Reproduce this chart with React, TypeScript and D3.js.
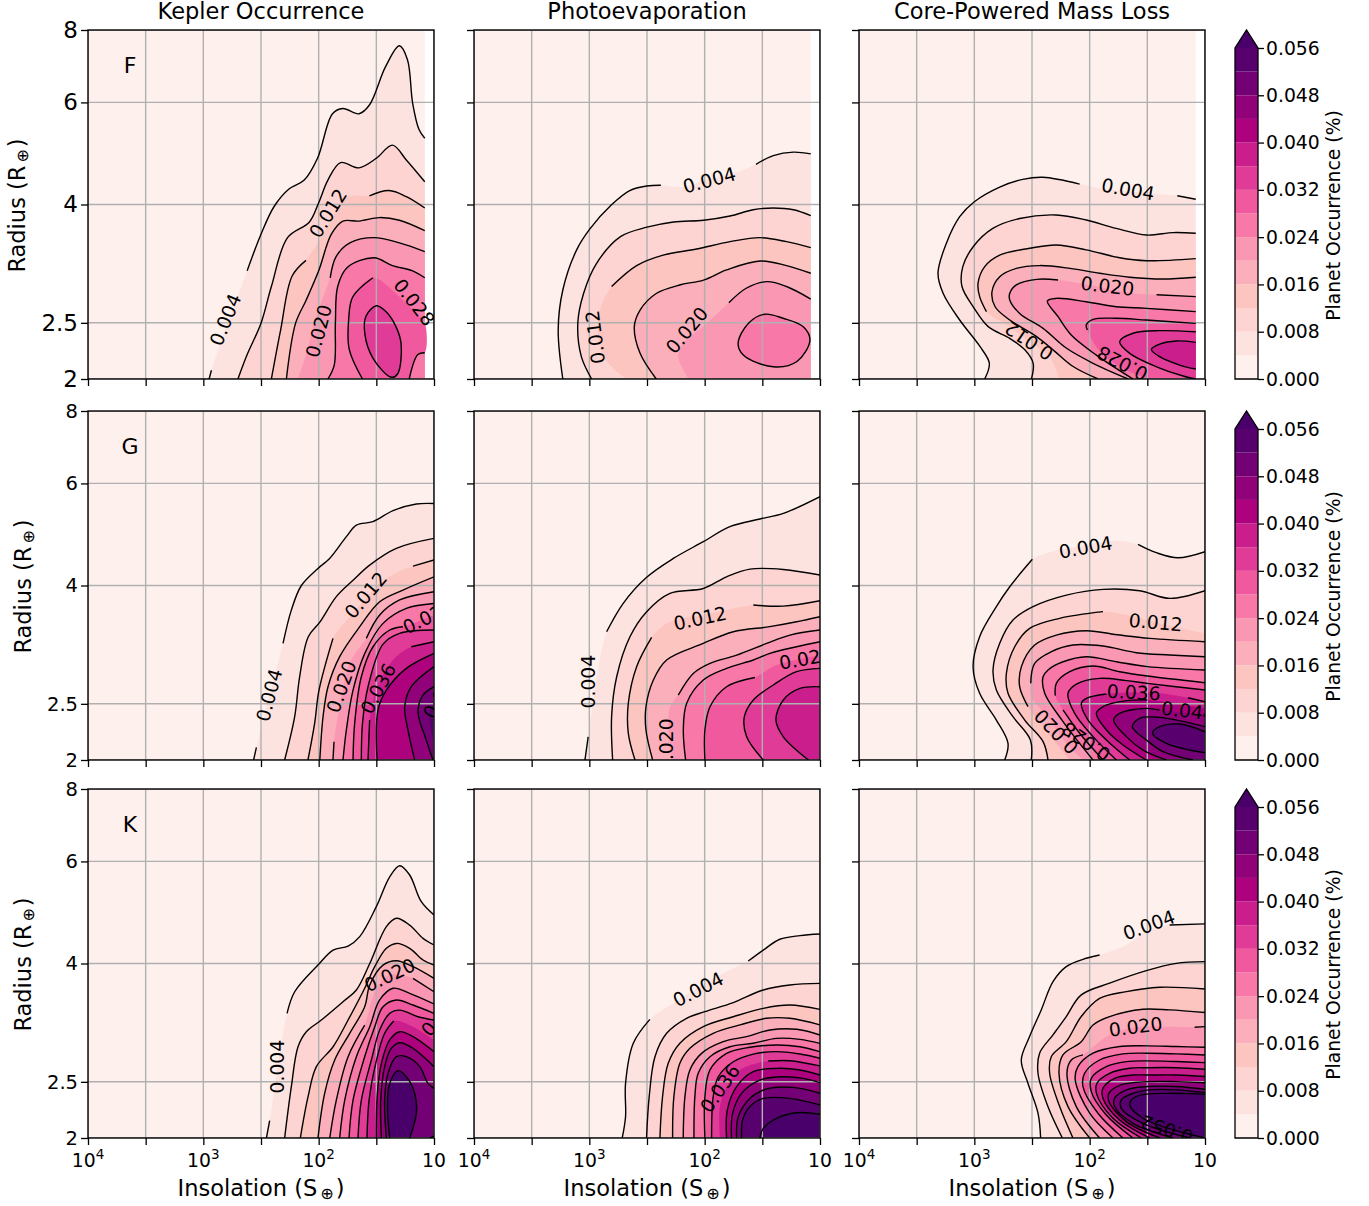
import React, { useEffect, useRef } from 'react';
import * as d3 from 'd3';

// contour points are [log10 insolation, log2 radius]
// _ lifts the pen (inline label gaps), a lone point between two _ only shapes the fill
type Pt = [number, number] | null;
type Contour = [number, Pt[]];
type Label = [string, number, number, number];
const _ = null;

const levels = d3.range(0, 15).map((i) => i * 0.004);
const cbarTicks = [0, 0.008, 0.016, 0.024, 0.032, 0.04, 0.048, 0.056];
const xTicks = [4, 3.5, 3, 2.5, 2, 1.5, 1];
const yTicks = [2, 2.5, 4, 6, 8];
const titles = ['Kepler Occurrence', 'Photoevaporation', 'Core-Powered Mass Loss'];
const spectralTypes = ['F', 'G', 'K'];

const fKepler: Contour[] = [
  [0.004, [[2.95,1],[2.93,1.05],_,[2.62,1.62],[2.5,1.83],[2.385,1.99],[2.255,2.09],[2.125,2.14],[2.01,2.265],[1.88,2.52],[1.79,2.55],[1.65,2.52],[1.56,2.57],[1.42,2.79],[1.3,2.91],[1.23,2.83],[1.185,2.58],[1.13,2.43],[1.08,2.38]]],
  [0.008, [[2.7,1],[2.62,1.14],[2.5,1.32],[2.41,1.53],[2.27,1.81],[2.08,1.9],[2,2.01],[1.92,2.14],[1.81,2.24],[1.65,2.21],[1.5,2.265],[1.36,2.34],[1.24,2.255],[1.08,2.13]]],
  [0.012, [[2.41,1],[2.33,1.28],[2.23,1.59],[2.11,1.68],_,[1.94,1.85],_,[1.76,2.04],_,[1.56,2.05],[1.39,2.08],[1.24,2.045],[1.08,1.98]]],
  [0.016, [[2.28,1],[2.2,1.32],[2.11,1.45],[2,1.62],[1.89,1.83],[1.79,1.905],[1.65,1.905],[1.475,1.925],[1.3,1.91],[1.08,1.85]]],
  [0.02, [[2.18,1],_,[2.11,1.14],_,[2.02,1.36],_,[1.9,1.58],[1.85,1.7],[1.73,1.78],[1.52,1.81],[1.3,1.78],[1.08,1.73]]],
  [0.024, [[1.92,1],[1.865,1.08],[1.855,1.32],[1.835,1.53],[1.75,1.64],[1.52,1.695],[1.36,1.65],[1.185,1.62],[1.08,1.58]]],
  [0.028, [[1.62,1],[1.735,1.17],[1.74,1.34],[1.705,1.47],[1.53,1.58],_,[1.33,1.49],_,[1.16,1.38],_,[1.08,1.32],_,[1.08,1.15],[1.14,1.14],[1.215,1]]],
  [0.032, [[1.5,1.42],[1.59,1.36],[1.6,1.26],[1.53,1.12],[1.37,1.01],[1.315,1.03],[1.285,1.2],[1.33,1.3],[1.415,1.385],[1.5,1.42]]],
];
const fKeplerLabels: Label[] = [['0.004',2.81,1.34,-68],['0.012',1.92,1.95,-58],['0.020',2,1.275,-75],['0.028',1.17,1.44,52]];

const fPhoto: Contour[] = [
  [0.004, [[3.23,1],[3.27,1.28],[3.23,1.51],[3.11,1.74],[2.995,1.86],[2.81,1.997],[2.65,2.08],[2.5,2.106],[2.38,2.11],_,[2.185,2.1],_,[1.98,2.14],_,[1.695,2.19],_,[1.555,2.23],[1.405,2.28],[1.23,2.3],[1.08,2.29]]],
  [0.008, [[2.98,1],[3.07,1.13],[3.1,1.32],[3.05,1.49],[2.94,1.66],[2.73,1.816],[2.5,1.87],[2.27,1.9],[2.01,1.91],[1.78,1.934],[1.58,1.97],[1.405,1.98],[1.23,1.97],[1.08,1.936]]],
  [0.012, [[2.68,1],_,[2.88,1.13],_,[2.92,1.36],_,[2.807,1.53],[2.59,1.65],[2.36,1.71],[2.07,1.745],[1.78,1.787],[1.52,1.81],[1.29,1.787],[1.08,1.753]]],
  [0.016, [[2.42,1],[2.56,1.147],[2.61,1.3],[2.56,1.395],[2.42,1.49],[2.21,1.54],[2.01,1.567],[1.81,1.625],[1.52,1.676],[1.29,1.65],[1.08,1.606]]],
  [0.02, [[2.14,1],_,[2.23,1.13],_,[2.185,1.205],_,[1.98,1.32],_,[1.79,1.437],[1.64,1.52],[1.46,1.558],[1.29,1.53],[1.08,1.458]]],
  [0.024, [[1.48,1.371],[1.62,1.32],[1.71,1.205],[1.665,1.138],[1.405,1.07],[1.2,1.1],[1.087,1.224],[1.145,1.3],[1.32,1.348],[1.48,1.371]]],
];
const fPhotoLabels: Label[] = [['0.004',1.96,2.14,-15],['0.012',2.95,1.24,-97],['0.020',2.155,1.28,-50]];

const fCore: Contour[] = [
  [0.004, [[2.91,1],[2.87,1.09],[2.95,1.185],[3.127,1.338],[3.27,1.49],[3.315,1.606],[3.243,1.777],[3.127,1.93],[3,2.016],[2.78,2.1],[2.58,2.144],[2.405,2.156],[2.087,2.117],_,[1.885,2.09],_,[1.48,2.064],_,[1.24,2.05],[1.08,2.03]]],
  [0.008, [[2.505,1],[2.49,1.09],[2.56,1.166],[2.693,1.233],[2.88,1.3],[3.01,1.414],[3.107,1.53],[3.1,1.644],[3.01,1.758],[2.84,1.863],[2.607,1.92],[2.29,1.94],[2.03,1.911],[1.77,1.863],[1.508,1.825],[1.277,1.839],[1.08,1.835]]],
  [0.012, [[2.26,1],_,[2.347,1.128],_,[2.46,1.185],_,[2.72,1.31],_,[2.895,1.386],[2.954,1.472],[2.968,1.548],[2.91,1.644],[2.78,1.71],[2.52,1.749],[2.29,1.768],[2.03,1.74],[1.74,1.695],[1.508,1.678],[1.08,1.69]]],
  [0.016, [[1.927,1],[2.14,1.07],[2.3,1.157],[2.46,1.243],[2.693,1.338],[2.82,1.414],[2.847,1.5],[2.78,1.586],[2.636,1.634],[2.433,1.65],[2.17,1.634],[1.913,1.606],[1.653,1.583],[1.364,1.573],[1.08,1.583]]],
  [0.02, [[1.667,1],[1.97,1.09],[2.2,1.176],[2.404,1.29],[2.607,1.376],[2.693,1.453],[2.693,1.491],[2.636,1.539],[2.46,1.571],[2.274,1.567],_,[2.087,1.548],_,[1.624,1.491],_,[1.42,1.483],[1.08,1.472]]],
  [0.024, [[1.624,1],[1.942,1.137],[2.16,1.252],[2.274,1.357],[2.367,1.447],[2.29,1.462],[2.03,1.443],[1.77,1.414],[1.508,1.405],[1.08,1.386]]],
  [0.028, [[1.48,1],_,[1.71,1.06],_,[1.92,1.166],_,[2.02,1.281],[2.03,1.31],[1.97,1.342],[1.77,1.348],[1.508,1.338],[1.08,1.319]]],
  [0.032, [[1.08,1.271],[1.393,1.277],[1.624,1.262],[1.74,1.214],[1.653,1.147],[1.42,1.07],[1.19,1.017],[1.08,1]]],
  [0.036, [[1.08,1.21],[1.248,1.218],[1.393,1.2],[1.465,1.17],[1.393,1.128],[1.22,1.08],[1.08,1.057]]],
];
const fCoreLabels: Label[] = [['0.004',1.667,2.087,10],['0.020',1.846,1.533,7],['0.012',2.526,1.218,214],['0.028',1.716,1.09,207]];

const gKepler: Contour[] = [
  [0.004, [[2.564,1],[2.54,1.072],_,[2.309,1.668],[2.237,1.859],[2.15,2],[2.006,2.098],[1.905,2.155],[1.76,2.28],[1.673,2.346],[1.53,2.366],[1.355,2.429],[1.153,2.467],[1,2.47]]],
  [0.008, [[2.295,1],[2.208,1.248],[2.165,1.477],[2.09,1.706],[1.99,1.79],[1.847,1.936],[1.702,2.03],[1.558,2.117],[1.327,2.213],[1,2.27]]],
  [0.012, [[2.093,1],[2.035,1.21],[1.997,1.4],[1.876,1.697],_,[1.73,1.82],_,[1.413,2.04],_,[1.182,2.111],[1,2.146]]],
  [0.016, [[1.99,1],[1.962,1.248],[1.919,1.42],[1.818,1.592],[1.644,1.764],[1.471,1.907],[1.269,1.974],[1,2.05]]],
  [0.02, [[1.876,1],[1.867,1.105],_,[1.818,1.305],_,[1.73,1.554],_,[1.587,1.697],[1.471,1.831],[1.298,1.917],[1,1.964]]],
  [0.024, [[1.789,1],[1.76,1.172],[1.702,1.4],[1.6,1.611],[1.442,1.783],[1.24,1.869],[1,1.897]]],
  [0.028, [[1.702,1],[1.688,1.21],[1.63,1.477],[1.529,1.649],[1.384,1.745],[1.269,1.764],_,[1,1.83]]],
  [0.032, [[1.63,1],[1.62,1.21],[1.572,1.42],[1.442,1.664],[1.298,1.726],[1,1.745]]],
  [0.036, [[1.572,1],[1.558,1.229],_,[1.5,1.4],_,[1.37,1.563],_,[1.197,1.649],[1,1.678]]],
  [0.04, [[1.494,1],[1.486,1.286],[1.413,1.4],[1.24,1.525],[1,1.611]]],
  [0.044, [[1.168,1],[1.226,1.172],[1.254,1.305],[1.197,1.42],[1,1.535]]],
  [0.048, [[1.009,1],[1.067,1.114],[1.139,1.277],[1.095,1.372],[1,1.42]]],
  [0.052, [[1,1.324],_,[1.037,1.286],_,[1.037,1.21],_,[1,1.095]]],
];
const gKeplerLabels: Label[] = [['0.004',2.43,1.372,-75],['0.012',1.593,1.945,-50],['0.020',1.803,1.42,-70],['0.036',1.485,1.41,-62],['0.028',1.05,1.82,-25],['0.048',0.936,1.38,-60]];

const gPhoto: Contour[] = [
  [0.004, [[3.038,1],[3.01,1.133],_,[2.85,1.735],[2.706,1.898],[2.503,2.047],[2.272,2.155],[2.012,2.251],[1.781,2.337],[1.521,2.381],[1.318,2.413],[1,2.509]]],
  [0.008, [[2.798,1],[2.807,1.248],[2.763,1.477],[2.648,1.706],[2.503,1.85],[2.301,1.955],[2.012,1.983],[1.81,2.05],[1.607,2.094],[1.318,2.092],[1,2.06]]],
  [0.012, [[2.604,1],[2.662,1.153],[2.662,1.325],[2.59,1.535],[2.46,1.703],_,[2.301,1.792],_,[2.012,1.83],_,[1.578,1.888],[1.318,1.882],[1,1.913]]],
  [0.016, [[2.451,1],[2.509,1.172],[2.509,1.305],[2.445,1.458],[2.33,1.573],[2.012,1.668],[1.752,1.735],[1.436,1.764],[1.203,1.792],[1,1.821]]],
  [0.02, [[2.286,1],_,[2.315,1.21],_,[2.3,1.305],_,[2.229,1.372],[2.099,1.496],[1.954,1.554],[1.723,1.601],[1.463,1.668],[1.26,1.716],[1,1.745]]],
  [0.024, [[2.165,1],[2.185,1.172],[2.156,1.325],[2.012,1.458],[1.81,1.525],[1.578,1.573],[1.434,1.611],[1.203,1.649],[1,1.678]]],
  [0.028, [[1.998,1],[1.998,1.172],[1.954,1.305],[1.81,1.42],[1.564,1.473],_,[1.376,1.544],_,[1,1.6]]],
  [0.032, [[1.492,1],[1.636,1.133],[1.656,1.248],[1.578,1.344],[1.405,1.43],[1.203,1.506],[1,1.525]]],
  [0.036, [[1.1,1],[1.318,1.133],[1.382,1.229],[1.318,1.344],[1.174,1.41],[1,1.42]]],
];
const gPhotoLabels: Label[] = [['0.004',3.01,1.449,-90],['0.012',2.04,1.812,-12],['0.020',2.335,1.085,-90],['0.028',1.122,1.582,-10]];

const gCore: Contour[] = [
  [0.004, [[2.737,1],[2.708,1.095],[2.809,1.229],[2.954,1.382],[3.011,1.535],[2.954,1.707],[2.809,1.879],[2.693,1.993],[2.497,2.15],_,[2.029,2.232],_,[1.769,2.257],_,[1.581,2.236],[1.422,2.188],[1.234,2.159],[1,2.194]]],
  [0.008, [[2.506,1],[2.514,1.115],[2.665,1.248],[2.809,1.401],[2.838,1.516],[2.78,1.669],[2.665,1.802],[2.491,1.879],[2.202,1.945],[1.884,1.978],[1.566,1.97],[1.306,1.926],[1,1.97]]],
  [0.012, [[2.361,1],[2.404,1.105],[2.563,1.229],[2.708,1.382],[2.722,1.497],[2.65,1.649],[2.52,1.754],[2.26,1.812],[1.884,1.85],_,[1.682,1.831],_,[1.335,1.774],_,[1,1.726]]],
  [0.016, [[2.173,1],_,[2.361,1.153],_,[2.535,1.306],[2.607,1.42],[2.592,1.535],[2.477,1.659],[2.289,1.716],[2.029,1.741],[1.74,1.716],[1.48,1.697],[1,1.678]]],
  [0.02, [[2.058,1],_,[2.202,1.095],_,[2.361,1.248],_,[2.506,1.363],_,[2.511,1.439],[2.477,1.554],[2.332,1.621],[2.144,1.659],[1.884,1.653],[1.595,1.615],[1.306,1.602],[1,1.592]]],
  [0.024, [[1.971,1],[2.087,1.095],[2.231,1.22],[2.39,1.382],[2.404,1.477],[2.361,1.516],[2.231,1.563],[2.029,1.592],[1.769,1.563],[1.5,1.535],[1,1.516]]],
  [0.028, [[1.884,1],[2.087,1.153],[2.231,1.287],_,[2.298,1.369],[2.289,1.439],[2.173,1.506],[1.971,1.539],[1.74,1.506],[1.5,1.481],[1,1.443]]],
  [0.032, [[1.769,1],[1.971,1.134],[2.13,1.267],[2.188,1.382],[2.115,1.435],[1.913,1.468],[1.682,1.455],[1.5,1.439],[1,1.401]]],
  [0.036, [[1.653,1],[1.855,1.115],[2.014,1.229],[2.072,1.325],[2.029,1.353],[1.855,1.378],_,[1.624,1.388],_,[1.393,1.382],_,[1.147,1.357],[1,1.334]]],
  [0.04, [[1.509,1],[1.711,1.086],[1.855,1.172],[1.942,1.267],[1.884,1.306],[1.682,1.34],[1.5,1.344],_,[1.277,1.325],_,[1,1.296]]],
  [0.044, [[1.335,1],[1.537,1.057],[1.682,1.134],[1.792,1.229],[1.74,1.267],[1.509,1.296],[1.393,1.286],_,[1,1.258]]],
  [0.048, [[1.104,1],[1.364,1.048],[1.509,1.115],[1.63,1.191],[1.566,1.239],[1.393,1.244],[1,1.191]]],
  [0.052, [[1,1.042],[1.133,1.057],[1.335,1.095],[1.456,1.153],[1.393,1.191],[1.22,1.206],[1,1.162]]],
];
const gCoreLabels: Label[] = [['0.004',2.035,2.219,-10],['0.012',1.427,1.789,5],['0.036',1.618,1.388,3],['0.044',1.147,1.281,7],['0.020',2.29,1.162,226],['0.028',2.03,1.105,215]];

const kKepler: Contour[] = [
  [0.004, [[2.453,1],[2.425,1.099],_,[2.274,1.714],[2.208,1.838],[2.006,1.991],[1.875,2.077],[1.745,2.1],[1.644,2.154],[1.5,2.326],[1.384,2.497],[1.297,2.56],[1.211,2.507],[1.11,2.354],[1,2.278]]],
  [0.008, [[2.295,1],[2.237,1.294],[2.179,1.523],[2.107,1.609],[1.977,1.676],[1.789,1.781],[1.673,1.848],[1.557,2],[1.413,2.211],[1.326,2.259],[1.211,2.22],[1.095,2.144],[1,2.106]]],
  [0.012, [[2.159,1],[2.092,1.237],[2.02,1.409],[1.875,1.523],[1.745,1.676],[1.601,1.858],[1.514,1.982],[1.413,2.087],[1.326,2.115],[1.211,2.087],[1.095,2.02],[1,1.991]]],
  [0.016, [[2.006,1],[1.948,1.256],[1.861,1.447],[1.731,1.6],[1.601,1.752],[1.557,1.877],[1.442,1.991],[1.326,2.016],[1.182,1.982],[1,1.915]]],
  [0.02, [[1.904,1],[1.847,1.217],[1.745,1.466],[1.601,1.647],_,[1.5,1.858],_,[1.384,1.934],_,[1.182,1.915],[1,1.838]]],
  [0.024, [[1.818,1],[1.774,1.217],[1.673,1.466],[1.557,1.638],[1.471,1.791],[1.355,1.858],[1.211,1.829],[1,1.768]]],
  [0.028, [[1.737,1],[1.702,1.217],[1.601,1.466],[1.514,1.638],[1.442,1.752],[1.326,1.791],[1.182,1.762],[1,1.714]]],
  [0.032, [[1.659,1],[1.63,1.217],[1.543,1.447],[1.471,1.619],[1.384,1.714],[1.297,1.733],[1.139,1.695],[1,1.676]]],
  [0.036, [[1.581,1],[1.563,1.217],[1.505,1.428],[1.428,1.6],[1.349,1.67],_,[1.182,1.638],_,[1,1.561]]],
  [0.04, [[1.5,1],[1.491,1.256],[1.456,1.428],[1.384,1.562],[1.297,1.609],[1.182,1.581],[1,1.495]]],
  [0.044, [[1.456,1],[1.462,1.217],[1.428,1.409],[1.37,1.514],[1.297,1.546],[1.182,1.514],[1,1.409]]],
  [0.048, [[1.413,1],[1.428,1.217],[1.399,1.37],[1.326,1.466],[1.24,1.466],[1.124,1.409],[1.052,1.313],[1,1.284],_,[1,1.011],[1.037,1]]],
  [0.056, [[1.384,1],[1.404,1.179],[1.384,1.313],[1.312,1.386],[1.24,1.351],[1.167,1.256],[1.153,1.141],[1.211,1]]],
];
const kKeplerLabels: Label[] = [['0.004',2.361,1.409,-90],['0.020',1.384,1.934,-25],['0.036',0.93,1.718,-50]];

const kPhoto: Contour[] = [
  [0.004, [[2.715,1],[2.686,1.122],[2.686,1.313],[2.619,1.543],[2.475,1.68],_,[2.272,1.772],_,[2.041,1.867],_,[1.839,1.944],_,[1.622,2.014],[1.492,2.077],[1.348,2.139],[1.174,2.16],[1,2.169]]],
  [0.008, [[2.504,1],[2.481,1.237],[2.431,1.466],[2.33,1.6],[2.157,1.686],[1.998,1.724],[1.752,1.776],[1.492,1.848],[1.261,1.877],[1,1.886]]],
  [0.012, [[2.388,1],[2.365,1.237],[2.316,1.428],[2.215,1.543],[2.012,1.638],[1.752,1.695],[1.492,1.743],[1.261,1.762],[1,1.737]]],
  [0.016, [[2.278,1],[2.267,1.237],[2.215,1.428],[2.128,1.514],[1.926,1.6],[1.694,1.648],[1.463,1.686],[1.261,1.686],[1,1.648]]],
  [0.02, [[2.186,1],[2.171,1.237],[2.128,1.39],[2.027,1.485],[1.839,1.552],[1.637,1.581],[1.434,1.619],[1.203,1.623],[1,1.59]]],
  [0.024, [[2.093,1],[2.085,1.237],[2.056,1.371],[1.954,1.466],[1.781,1.523],[1.579,1.543],[1.376,1.571],[1.174,1.565],[1,1.542]]],
  [0.028, [[1.998,1],[1.998,1.237],[1.954,1.39],[1.81,1.485],[1.608,1.52],[1.376,1.533],[1.174,1.523],[1,1.495]]],
  [0.032, [[1.94,1],[1.926,1.237],[1.882,1.351],[1.752,1.437],[1.579,1.481],[1.376,1.495],[1.174,1.481],[1,1.457]]],
  [0.036, [[1.868,1],_,[1.868,1.18],_,[1.81,1.294],_,[1.694,1.39],_,[1.449,1.441],[1.261,1.443],[1,1.413]]],
  [0.04, [[1.81,1],[1.804,1.16],[1.723,1.294],[1.579,1.38],[1.376,1.399],[1.174,1.39],[1,1.361]]],
  [0.044, [[1.767,1],[1.758,1.141],[1.68,1.256],[1.521,1.332],[1.319,1.351],[1.145,1.342],[1,1.317]]],
  [0.048, [[1.723,1],[1.709,1.122],[1.608,1.227],[1.463,1.281],[1.232,1.29],[1,1.256]]],
  [0.052, [[1.68,1],[1.671,1.103],[1.608,1.18],[1.492,1.227],[1.261,1.227],[1,1.189]]],
  [0.056, [[1.521,1],[1.492,1.055],[1.376,1.113],[1.203,1.145],[1,1.136]]],
];
const kPhotoLabels: Label[] = [['0.004',2.056,1.852,-27],['0.036',1.868,1.285,-55]];

const kCore: Contour[] = [
  [0.004, [[2.425,1],[2.448,1.142],[2.535,1.314],[2.593,1.447],[2.521,1.581],[2.42,1.734],[2.318,1.896],[2.203,1.982],[2.029,2.03],[1.914,2.049],_,[1.711,2.097],_,[1.48,2.192],_,[1.307,2.221],[1,2.227]]],
  [0.008, [[2.237,1],[2.362,1.18],[2.448,1.371],[2.434,1.486],[2.318,1.591],[2.203,1.696],[2.073,1.82],[1.827,1.887],[1.509,1.959],[1.249,2.001],[1,2.011]]],
  [0.012, [[2.145,1],[2.26,1.18],[2.347,1.371],[2.333,1.466],[2.203,1.552],[2.073,1.696],[1.914,1.8],[1.682,1.839],[1.393,1.864],[1,1.854]]],
  [0.016, [[2,1],[2.188,1.18],[2.266,1.371],[2.232,1.476],[2.073,1.552],[1.971,1.648],[1.827,1.696],[1.538,1.738],[1.307,1.734],[1,1.719]]],
  [0.02, [[1.914,1],[2.116,1.18],[2.197,1.371],[2.159,1.447],[2.058,1.476],_,[1.827,1.591],_,[1.602,1.635],_,[1.336,1.638],_,[1.09,1.635],[1,1.638]]],
  [0.024, [[1.798,1],[2,1.142],[2.125,1.333],[2.102,1.409],[1.971,1.486],[1.74,1.524],[1.5,1.528],[1.249,1.524],[1,1.52]]],
  [0.028, [[1.711,1],[1.928,1.142],[2.058,1.295],[2.044,1.371],[1.914,1.447],[1.711,1.482],[1.5,1.486],[1.249,1.482],[1,1.476]]],
  [0.032, [[1.625,1],[1.856,1.132],[1.986,1.266],[1.986,1.342],[1.856,1.409],[1.682,1.438],[1.5,1.442],[1.249,1.438],[1,1.432]]],
  [0.036, [[1.552,1],[1.798,1.113],[1.937,1.247],[1.937,1.314],[1.827,1.371],[1.653,1.4],[1.5,1.403],[1.249,1.403],[1,1.394]]],
  [0.04, [[1.48,1],[1.74,1.103],[1.885,1.228],[1.885,1.285],[1.784,1.342],[1.625,1.361],[1.5,1.361],[1.249,1.361],[1,1.352]]],
  [0.044, [[1.393,1],[1.682,1.094],[1.833,1.209],[1.833,1.256],[1.726,1.304],[1.5,1.323],[1.249,1.323],[1,1.317]]],
  [0.048, [[1.278,1],[1.625,1.084],[1.784,1.18],[1.784,1.228],[1.682,1.276],[1.5,1.295],[1.249,1.295],[1,1.279]]],
  [0.052, [[1.133,1],[1.538,1.084],[1.726,1.17],[1.726,1.218],[1.625,1.256],[1.48,1.276],[1.249,1.276],[1,1.26]]],
  [0.056, [[1,1],[1.364,1.065],[1.538,1.113],[1.648,1.18],[1.639,1.218],[1.552,1.247],[1.335,1.256],[1,1.25]]],
];
const kCoreLabels: Label[] = [['0.004',1.486,2.221,-20],['0.020',1.602,1.638,-7],['0.052',1.33,1.05,198]];

const contours = [[fKepler, fPhoto, fCore], [gKepler, gPhoto, gCore], [kKepler, kPhoto, kCore]];
const labels = [[fKeplerLabels, fPhotoLabels, fCoreLabels], [gKeplerLabels, gPhotoLabels, gCoreLabels], [kKeplerLabels, kPhotoLabels, kCoreLabels]];
// the F star grid stops short of the axis edge
const gridEdge = [1.08, 1, 1];

const colX = [88, 474, 859];
const rowY = [30, 411, 789];
const panelW = 346;
const panelH = 349;
const font = 'DejaVu Sans';

// matplotlib's RdPu is piecewise linear over these nine anchors
const rdpu = d3.scaleLinear<string>()
  .domain(d3.range(9).map((i) => i / 8))
  .range(d3.schemeRdPu[9])
  .interpolate(d3.interpolateRgb);
const bandColor = (lev: number) => {
  const i = Math.round(lev / 0.004);
  return i >= 14 ? '#49006a' : rdpu((i + 0.5) / 14);
};

// split a contour at the pen-up markers
function splitSegments(pts: Pt[]) {
  const segs: [number, number][][] = [[]];
  pts.forEach((p) => {
    if (p === null) segs.push([]);
    else segs[segs.length - 1].push(p);
  });
  return segs;
}

function App() {
  const ref = useRef<SVGSVGElement>(null);

  useEffect(() => {
    const svg = d3.select(ref.current);
    svg.selectAll('*').remove();

    rowY.forEach((y0, r) => {
      colX.forEach((x0, c) => {
        const x = d3.scaleLog().domain([1e4, 10]).range([x0, x0 + panelW]);
        const y = d3.scaleLog().base(2).domain([2, 8]).range([y0 + panelH, y0]);
        const edge = gridEdge[r];
        const clipId = `clip-${r}-${c}`;
        const px = (p: [number, number]): [number, number] => [x(10 ** p[0]), y(2 ** p[1])];
        const line = d3.line().curve(d3.curveCatmullRom.alpha(0.5));
        const closedLine = d3.line().curve(d3.curveCatmullRomClosed.alpha(0.5));

        svg.append('clipPath').attr('id', clipId).append('rect')
          .attr('x', x0).attr('y', y0).attr('width', panelW).attr('height', panelH);

        const g = svg.append('g');
        const plot = g.append('g').attr('clip-path', `url(#${clipId})`);

        // filled bands, lowest level first
        plot.append('rect')
          .attr('x', x0).attr('y', y0)
          .attr('width', x(10 ** edge) - x0).attr('height', panelH)
          .attr('fill', bandColor(0));
        contours[r][c].forEach(([lev, pts]) => {
          const all = pts.filter((p) => p !== null) as [number, number][];
          const first = all[0];
          const last = all[all.length - 1];
          let d: string;
          if (first[0] === last[0] && first[1] === last[1]) {
            d = closedLine(all.slice(0, -1).map(px)) as string;
          } else {
            d = line(all.map(px)) as string;
            const onEdge = (first[0] <= edge + 0.02 ? 1 : 0) + (last[0] <= edge + 0.02 ? 1 : 0);
            if (onEdge === 1) {
              const corner = px([edge, 1]);
              d += `L${corner[0]},${corner[1]}`;
            }
            d += 'Z';
          }
          plot.append('path').attr('d', d).attr('fill', bandColor(lev));
        });

        // grid sits over the fill, under the lines
        xTicks.forEach((t) => {
          plot.append('line')
            .attr('x1', x(10 ** t)).attr('x2', x(10 ** t))
            .attr('y1', y0).attr('y2', y0 + panelH)
            .attr('stroke', '#b0b0b0').attr('stroke-width', 1.4);
        });
        yTicks.forEach((t) => {
          plot.append('line')
            .attr('x1', x0).attr('x2', x0 + panelW)
            .attr('y1', y(t)).attr('y2', y(t))
            .attr('stroke', '#b0b0b0').attr('stroke-width', 1.4);
        });

        contours[r][c].forEach(([, pts]) => {
          const all = pts.filter((p) => p !== null) as [number, number][];
          const isClosed = all[0][0] === all[all.length - 1][0] && all[0][1] === all[all.length - 1][1];
          splitSegments(pts).filter((s) => s.length > 1).forEach((s) => {
            plot.append('path')
              .attr('d', (isClosed ? closedLine(s.slice(0, -1).map(px)) : line(s.map(px))) as string)
              .attr('fill', 'none')
              .attr('stroke', '#000')
              .attr('stroke-width', 1.4);
          });
        });

        labels[r][c].forEach(([text, a, b, angle]) => {
          const [lx, ly] = px([a, b]);
          plot.append('text')
            .attr('transform', `translate(${lx},${ly}) rotate(${angle})`)
            .attr('text-anchor', 'middle')
            .attr('dy', '0.36em')
            .attr('font-size', 18.8)
            .attr('font-family', font)
            .text(text);
        });

        if (c === 0) {
          g.append('text')
            .attr('x', x0 + 42).attr('y', y0 + 35)
            .attr('dy', '0.36em')
            .attr('text-anchor', 'middle')
            .attr('font-size', 22)
            .attr('font-family', font)
            .text(spectralTypes[r]);
        }

        g.append('rect')
          .attr('x', x0).attr('y', y0).attr('width', panelW).attr('height', panelH)
          .attr('fill', 'none').attr('stroke', '#000').attr('stroke-width', 1.4);

        const xAxis = g.append('g')
          .attr('transform', `translate(0,${y0 + panelH})`)
          .call(d3.axisBottom(x).tickValues(xTicks.map((t) => 10 ** t)).tickSize(7).tickFormat(() => ''));
        xAxis.select('.domain').remove();
        xAxis.selectAll('line').attr('stroke', '#000').attr('stroke-width', 1.3);

        const yAxis = g.append('g')
          .attr('transform', `translate(${x0},0)`)
          .call(d3.axisLeft(y).tickValues(yTicks).tickSize(7).tickFormat((t: any) => (c === 0 ? String(t) : '')));
        yAxis.select('.domain').remove();
        yAxis.selectAll('line').attr('stroke', '#000').attr('stroke-width', 1.3);
        yAxis.selectAll('text')
          .attr('font-size', r === 0 ? 23 : 19.5)
          .attr('font-family', font)
          .attr('fill', '#000');

        // decade labels with superscript exponents, bottom row only
        if (r === 2) {
          [4, 3, 2, 1].forEach((e) => {
            const t = g.append('text')
              .attr('x', x(10 ** e))
              .attr('y', y0 + panelH + 29)
              .attr('text-anchor', 'middle')
              .attr('font-size', 18.8)
              .attr('font-family', font);
            t.append('tspan').text('10');
            if (e > 1) t.append('tspan').attr('font-size', 13.5).attr('dy', -8).text(String(e));
          });
          const t = g.append('text')
            .attr('x', x0 + panelW / 2).attr('y', y0 + panelH + 58)
            .attr('text-anchor', 'middle')
            .attr('font-size', 22.5)
            .attr('font-family', font);
          t.append('tspan').text('Insolation (S');
          t.append('tspan').attr('font-size', 16).attr('dy', 3).attr('dx', 3).text('⊕');
          t.append('tspan').attr('dy', -3).attr('dx', 2).text(')');
        }

        if (r === 0) {
          g.append('text')
            .attr('x', x0 + panelW / 2).attr('y', 19)
            .attr('text-anchor', 'middle')
            .attr('font-size', 22.5)
            .attr('font-family', font)
            .text(titles[c]);
        }

        if (c === 0) {
          const t = g.append('text')
            .attr('transform', `translate(${r === 0 ? 25 : 31},${y0 + panelH / 2 + 1}) rotate(-90)`)
            .attr('text-anchor', 'middle')
            .attr('font-size', 22.5)
            .attr('font-family', font);
          t.append('tspan').text('Radius (R');
          t.append('tspan').attr('font-size', 16).attr('dy', 3).attr('dx', 3).text('⊕');
          t.append('tspan').attr('dy', -3).attr('dx', 2).text(')');
        }
      });

      // colour bar
      const cbX = 1235;
      const cbW = 23;
      const cbTop = rowY[r] + 18;
      const cbBottom = rowY[r] + panelH;
      const cy = d3.scaleLinear().domain([0, 0.056]).range([cbBottom, cbTop]);
      const cb = svg.append('g');
      levels.slice(0, 14).forEach((lev) => {
        cb.append('rect')
          .attr('x', cbX).attr('width', cbW)
          .attr('y', cy(lev + 0.004)).attr('height', cy(lev) - cy(lev + 0.004))
          .attr('fill', bandColor(lev));
      });
      const outline = d3.path();
      outline.moveTo(cbX, cbBottom);
      outline.lineTo(cbX, cbTop);
      outline.lineTo(cbX + cbW / 2, rowY[r]);
      outline.lineTo(cbX + cbW, cbTop);
      outline.lineTo(cbX + cbW, cbBottom);
      outline.closePath();
      const arrow = d3.path();
      arrow.moveTo(cbX, cbTop);
      arrow.lineTo(cbX + cbW / 2, rowY[r]);
      arrow.lineTo(cbX + cbW, cbTop);
      arrow.closePath();
      cb.append('path').attr('d', arrow.toString()).attr('fill', bandColor(0.056));
      cb.append('path').attr('d', outline.toString()).attr('fill', 'none').attr('stroke', '#000').attr('stroke-width', 1.3);
      const cbAxis = cb.append('g')
        .attr('transform', `translate(${cbX + cbW},0)`)
        .call(d3.axisRight(cy).tickValues(cbarTicks).tickSize(6).tickPadding(2).tickFormat(d3.format('.3f') as any));
      cbAxis.select('.domain').remove();
      cbAxis.selectAll('line').attr('stroke', '#000').attr('stroke-width', 1.3);
      cbAxis.selectAll('text').attr('font-size', 18.8).attr('font-family', font).attr('fill', '#000');
      cb.append('text')
        .attr('transform', `translate(1340,${(cbTop + cbBottom) / 2 + 2}) rotate(-90)`)
        .attr('text-anchor', 'middle')
        .attr('font-size', 18.8)
        .attr('font-family', font)
        .text('Planet Occurrence (%)');
    });
  }, []);

  return (
    <svg
      ref={ref}
      width={1369}
      height={1206}
      style={{ position: 'absolute', left: 0, top: 0, background: '#fff' }}
    />
  );
}

export default App;
